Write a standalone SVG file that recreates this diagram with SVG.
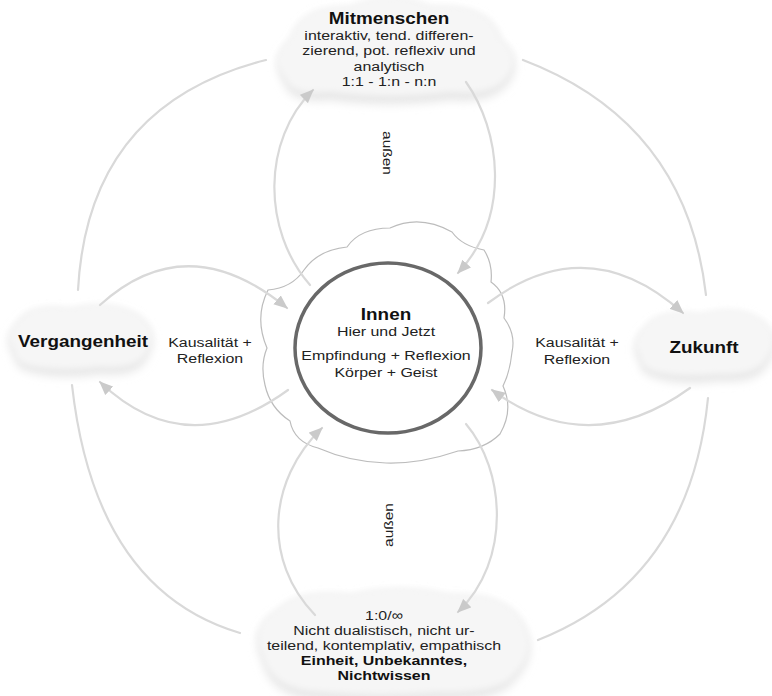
<svg xmlns="http://www.w3.org/2000/svg" width="772" height="696" viewBox="0 0 772 696">
<defs>
<style>
.t{font-family:"Liberation Sans",Arial,Helvetica,sans-serif;font-size:13.5px;fill:#222;text-anchor:middle}
.b{font-weight:bold;fill:#111}
.h{font-size:16px}
.c{fill:none;stroke:#d9d9d9;stroke-width:2.2;stroke-linecap:round}
.a{marker-end:url(#ah)}
.cl{fill:#f6f6f6;filter:url(#soft)}
.sh{fill:#e6e6e6;filter:url(#soft2)}
</style>
<filter id="soft" x="-20%" y="-30%" width="140%" height="160%"><feGaussianBlur stdDeviation="3"/></filter>
<filter id="soft2" x="-20%" y="-30%" width="140%" height="160%"><feGaussianBlur stdDeviation="5"/></filter>
<marker id="ah" viewBox="0 0 12 10" refX="11" refY="5" markerWidth="14" markerHeight="12" markerUnits="userSpaceOnUse" orient="auto"><path d="M0,0 L12,5 L0,10 z" fill="#cacaca"/></marker>
</defs>
<rect width="772" height="696" fill="#ffffff"/>

<g id="mitmenschen-cloud">
<path class="sh" d="M285,84 Q268,62 292,42 Q302,8 352,10 Q392,-8 432,10 Q490,6 500,42 Q526,62 506,86 Q490,104 450,100 Q390,108 330,100 Q290,104 285,84 Z"/>
<path class="cl" d="M285,78 Q266,58 290,38 Q300,4 350,6 Q390,-12 430,6 Q490,2 500,38 Q525,58 505,80 Q490,96 450,92 Q390,100 330,92 Q290,96 285,78 Z"/>
</g>
<g id="vergangenheit-cloud">
<path class="sh" d="M14,355 Q2,340 18,325 Q30,306 70,312 Q110,302 138,318 Q160,335 148,356 Q140,378 100,374 Q60,380 30,372 Q14,368 14,355 Z"/>
<path class="cl" d="M14,350 Q2,336 18,321 Q30,302 70,308 Q110,298 138,314 Q160,330 148,350 Q140,370 100,367 Q60,372 30,366 Q14,362 14,350 Z"/>
</g>
<g id="zukunft-cloud">
<path class="sh" d="M640,362 Q628,346 646,330 Q660,312 700,318 Q740,308 762,324 Q782,342 768,364 Q758,384 720,381 Q680,386 656,378 Q640,374 640,362 Z"/>
<path class="cl" d="M640,356 Q628,341 646,325 Q660,307 700,313 Q740,303 762,319 Q782,336 768,357 Q758,376 720,374 Q680,378 656,372 Q640,368 640,356 Z"/>
</g>
<g id="nichtwissen-cloud">
<path class="sh" d="M262,660 Q248,630 280,612 Q300,592 350,598 Q400,586 450,598 Q505,596 522,625 Q540,655 515,680 Q500,702 440,700 Q380,706 320,700 Q270,698 262,660 Z"/>
<path class="cl" d="M262,654 Q248,625 280,607 Q300,588 350,594 Q400,582 450,594 Q505,592 522,620 Q540,650 515,674 Q500,694 440,692 Q380,698 320,692 Q270,690 262,654 Z"/>
</g>

<g id="innen-cloud">
<path d="M267,348 Q254,318 268,290 Q292,288 304,270 Q318,250 347,247 Q360,228 390,228 Q420,214 452,232 Q462,246 484,250 Q493,264 491,282 Q508,294 504,318 Q516,334 512,352 Q510,372 503,386 Q514,410 500,434 Q484,450 458,451 Q420,464 386,463 Q350,462 318,448 Q294,442 290,421 Q270,408 265,385 Q260,365 267,348 Z" fill="#ffffff" stroke="#bcbcbc" stroke-width="1.2"/>
</g>

<g id="connectors">
<path class="c" d="M523,60 Q686,122 706,295"/>
<path class="c a" d="M466,82 C500,130 512,215 458,273"/>
<path class="c a" d="M310,285 C262,230 262,140 313,90"/>
<path class="c" d="M78,290 Q88,105 266,60"/>
<path class="c a" d="M100,305 Q187,226 287,308"/>
<path class="c a" d="M288,390 Q186,464 100,382"/>
<path class="c" d="M72,385 Q95,590 240,633"/>
<path class="c a" d="M315,615 C262,560 268,480 322,428"/>
<path class="c a" d="M466,424 C505,470 512,560 458,612"/>
<path class="c" d="M708,398 Q690,580 538,640"/>
<path class="c a" d="M690,388 Q589,461 492,390"/>
<path class="c a" d="M488,303 Q588,228 683,313"/>
</g>

<g id="mitmenschen">
<g transform="translate(389,0) scale(1.18,1)">
<text class="t b h" x="0" y="24">Mitmenschen</text>
<text class="t" x="0" y="40">interaktiv, tend. differen-</text>
<text class="t" x="0" y="55">zierend, pot. reflexiv und</text>
<text class="t" x="0" y="71">analytisch</text>
<text class="t" x="0" y="86">1:1 - 1:n - n:n</text>
</g>
</g>

<g id="vergangenheit">
<g transform="translate(83,0) scale(1.18,1)">
<text class="t b h" x="0" y="347">Vergangenheit</text>
</g>
</g>

<g id="kausal-links">
<g transform="translate(210,0) scale(1.18,1)">
<text class="t" x="0" y="347">Kausalität +</text>
<text class="t" x="0" y="363">Reflexion</text>
</g>
</g>

<g id="zukunft">
<g transform="translate(704,0) scale(1.18,1)">
<text class="t b h" x="0" y="353">Zukunft</text>
</g>
</g>

<g id="kausal-rechts">
<g transform="translate(577,0) scale(1.18,1)">
<text class="t" x="0" y="347">Kausalität +</text>
<text class="t" x="0" y="364">Reflexion</text>
</g>
</g>

<g id="innen">
<ellipse cx="388" cy="348" rx="93" ry="85" fill="#ffffff" stroke="#686868" stroke-width="3.5"/>
<g transform="translate(386,0) scale(1.18,1)">
<text class="t b h" x="0" y="320">Innen</text>
<text class="t" x="0" y="336">Hier und Jetzt</text>
<text class="t" x="0" y="360">Empfindung + Reflexion</text>
<text class="t" x="0" y="377">Körper + Geist</text>
</g>
</g>

<g id="nichtwissen">
<g transform="translate(384,0) scale(1.18,1)">
<text class="t" x="0" y="620">1:0/∞</text>
<text class="t" x="0" y="635">Nicht dualistisch, nicht ur-</text>
<text class="t" x="0" y="650">teilend, kontemplativ, empathisch</text>
<text class="t b" x="0" y="665">Einheit, Unbekanntes,</text>
<text class="t b" x="0" y="680">Nichtwissen</text>
</g>
</g>

<g id="labels-aussen">
<text class="t" transform="translate(383,153) rotate(90) scale(1.15,1)" x="0" y="0">außen</text>
<text class="t" transform="translate(393,525) rotate(-90) scale(1.15,1)" x="0" y="0">außen</text>
</g>
</svg>
